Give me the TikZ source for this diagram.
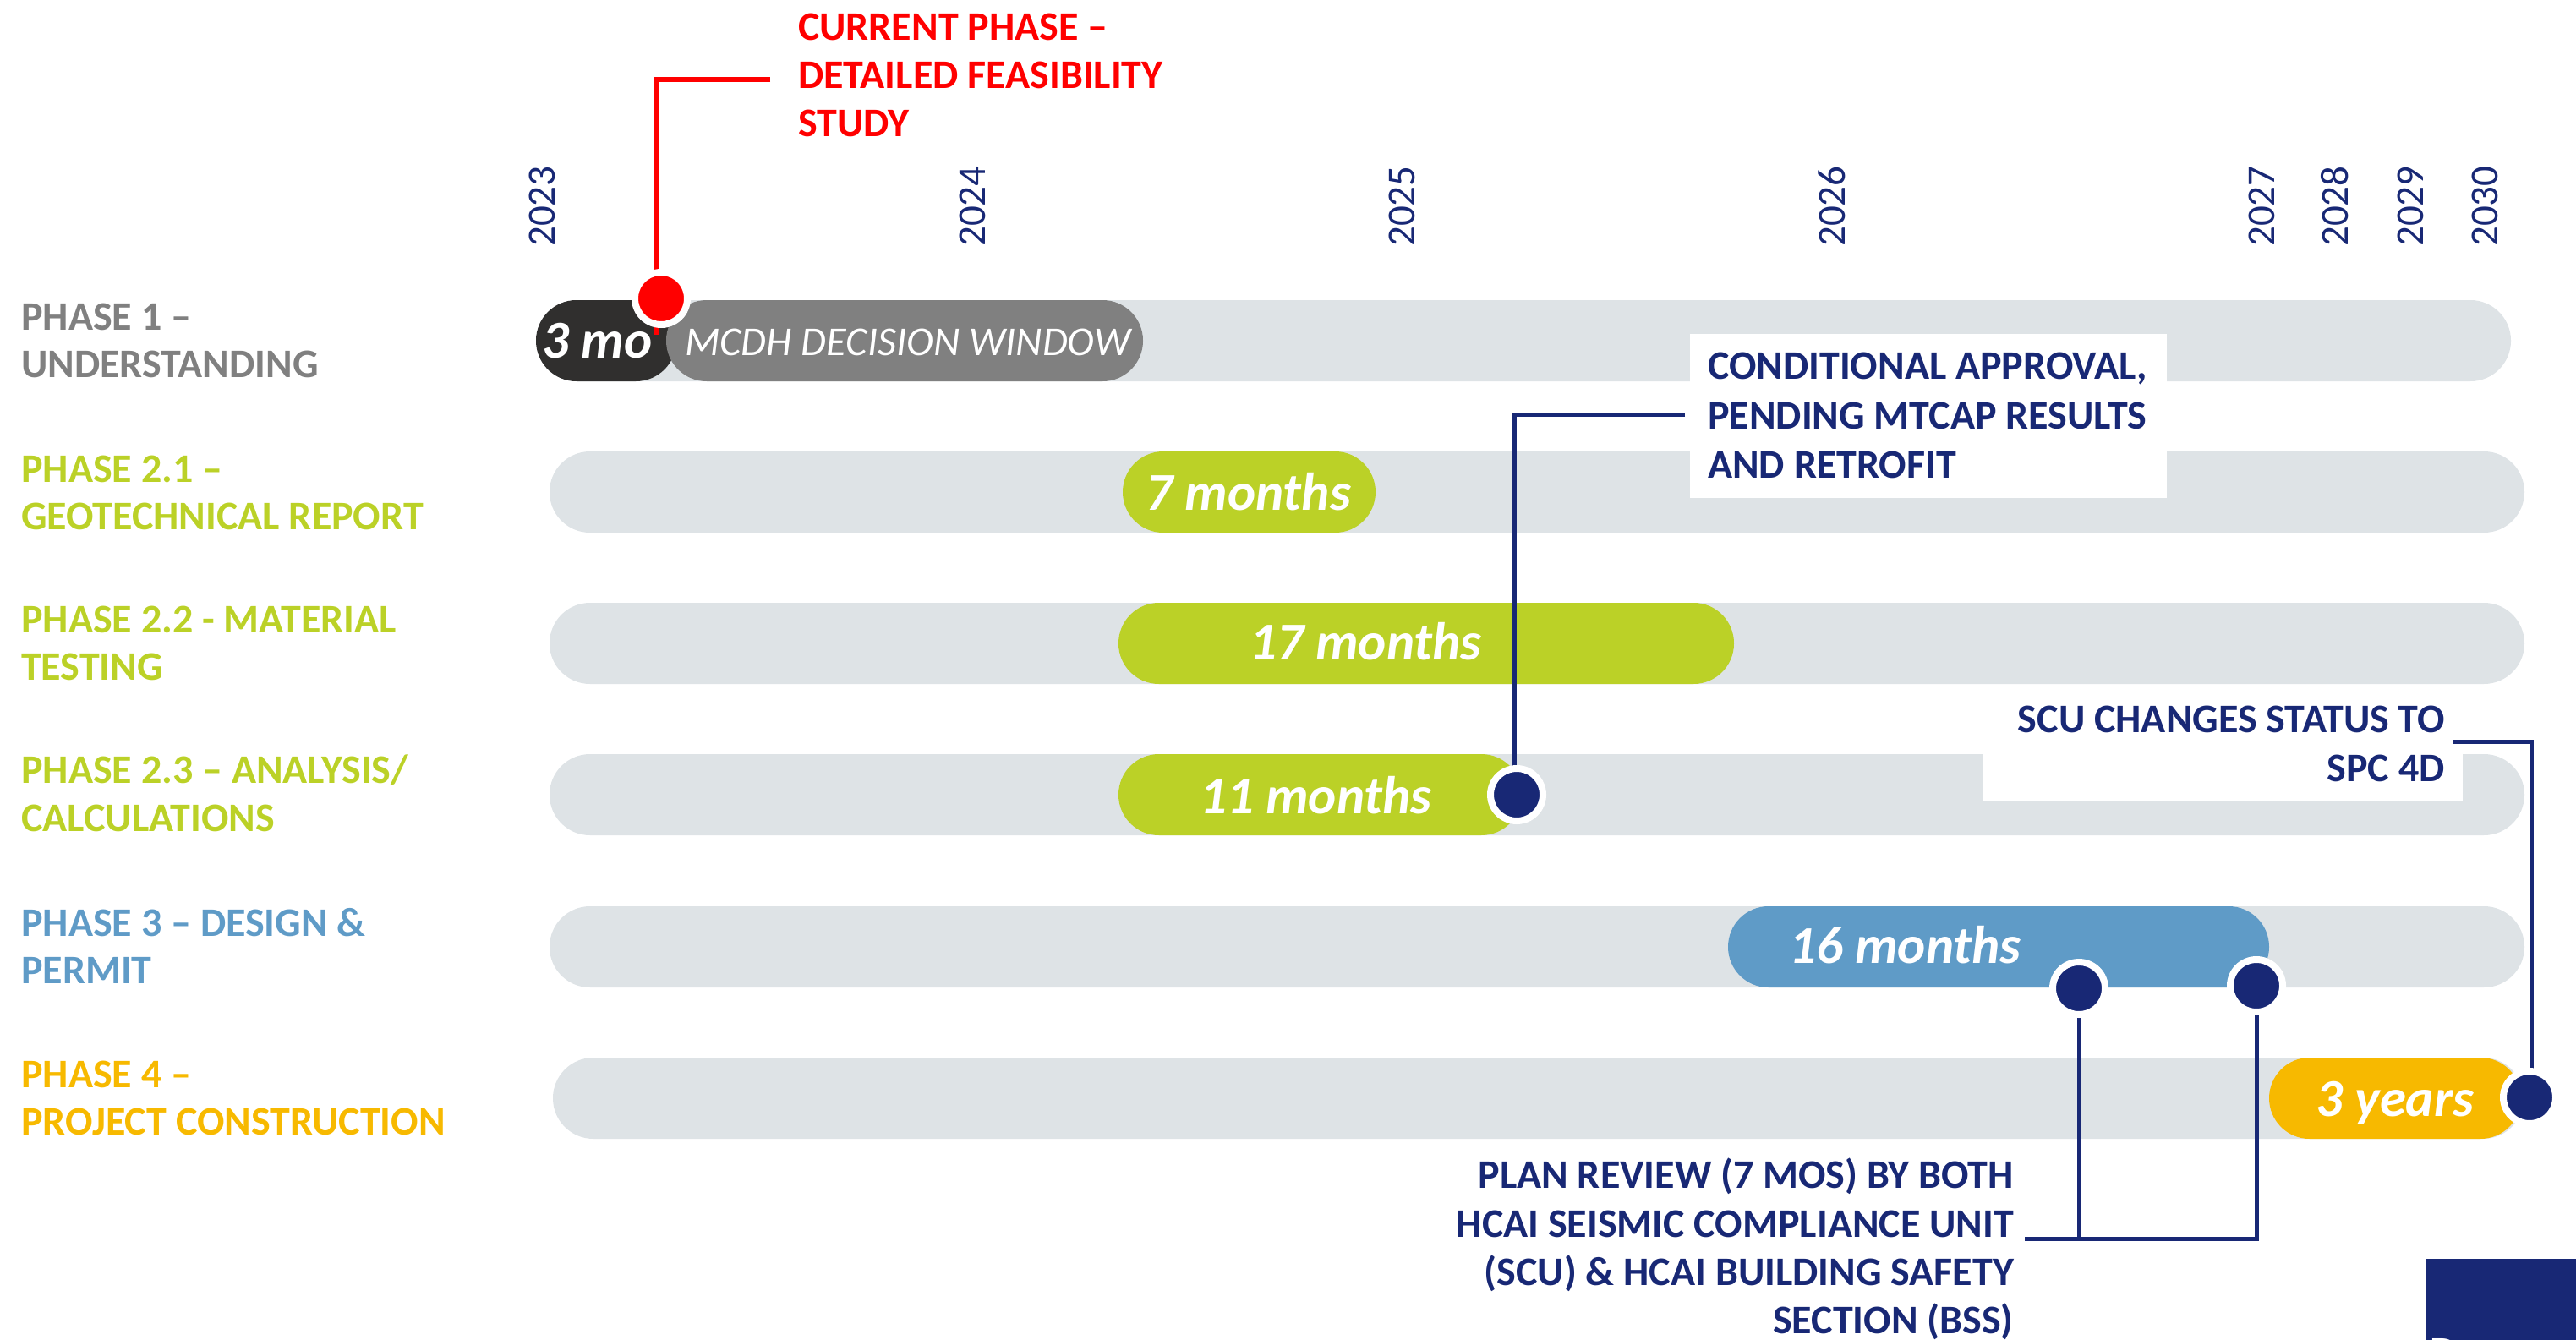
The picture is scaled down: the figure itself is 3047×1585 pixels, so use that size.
\documentclass[tikz,border=0pt]{standalone}
\usepackage{fontspec}
\setmainfont{Carlito}
\newfontfamily\logofont{Liberation Sans}
\definecolor{navy}{RGB}{24,40,117}
\definecolor{lime}{RGB}{187,209,39}
\definecolor{sky}{RGB}{95,155,199}
\definecolor{amber}{RGB}{247,185,0}
\definecolor{trackgray}{RGB}{222,227,230}
\definecolor{coal}{RGB}{48,47,46}
\definecolor{midgray}{RGB}{128,128,128}
\definecolor{hotred}{RGB}{255,0,0}
\pgfdeclarelayer{bg}
\pgfdeclarelayer{lines}
\pgfsetlayers{bg,lines,main}
\begin{document}
\begin{tikzpicture}[x=1pt,y=-1pt,
  lab/.style={inner sep=0pt, anchor=base west, font=\fontsize{48}{57}\selectfont\bfseries},
  labr/.style={lab, anchor=base east},
  yr/.style={inner sep=0pt, anchor=west, rotate=90, text=navy, font=\fontsize{47}{47}\selectfont},
  bartext/.style={inner sep=0pt, anchor=base west, text=white, font=\fontsize{63}{63}\selectfont\bfseries\itshape},
  dot/.style={circle, fill=navy, draw=white, line width=8pt, minimum size=62pt, inner sep=0pt},
  conn/.style={draw=navy, line width=5pt},
  redconn/.style={draw=hotred, line width=6pt},
  capsule/.style={rounded corners=47.9pt}
]
\useasboundingbox (0,0) rectangle (3047,1585);
\clip (0,0) rectangle (3047,1585);

\begin{pgfonlayer}{bg}
  % tracks
  \fill[trackgray, capsule] (634,355) rectangle (2970,451);
  \fill[trackgray, capsule] (650,534) rectangle (2986,630);
  \fill[trackgray, capsule] (650,713) rectangle (2986,809);
  \fill[trackgray, capsule] (650,892) rectangle (2986,988);
  \fill[trackgray, capsule] (650,1072) rectangle (2986,1168);
  \fill[trackgray, capsule] (654,1251) rectangle (2985,1347);
  % bars
  \fill[coal, capsule] (634,355) rectangle (800,451);
  \fill[midgray, capsule] (788,355) rectangle (1352,451);
  \fill[lime, capsule] (1328,534) rectangle (1627,630);
  \fill[lime, capsule] (1323,713) rectangle (2051,809);
  \fill[lime, capsule] (1323,892) rectangle (1800,988);
  \fill[sky, capsule] (2044,1072) rectangle (2684,1168);
  \fill[amber, capsule] (2684,1251) rectangle (2982,1347);
  % white label boxes
  \fill[white] (1999,395) rectangle (2563,589);
  \fill[white] (2345,820) rectangle (2913,948);
  % logo block
  \fill[navy] (2869,1489) rectangle (3047,1585);
\end{pgfonlayer}

% years
\node[yr] (y23) at (641,292) {2023};
\node[yr] (y24) at (1150,292) {2024};
\node[yr] (y25) at (1658,292) {2025};
\node[yr] (y26) at (2167,292) {2026};
\node[yr] (y27) at (2675,292) {2027};
\node[yr] (y28) at (2762,292) {2028};
\node[yr] (y29) at (2851,292) {2029};
\node[yr] (y30) at (2939,292) {2030};

% phase labels
\node[lab, text=midgray] (p1a) at (25,390) {PHASE 1 –};
\node[lab, text=midgray] (p1b) at (25,446) {UNDERSTANDING};
\node[lab, text=lime] (p21a) at (25,570) {PHASE 2.1 –};
\node[lab, text=lime] (p21b) at (25,626) {GEOTECHNICAL REPORT};
\node[lab, text=lime] (p22a) at (25,748) {PHASE 2.2 - MATERIAL};
\node[lab, text=lime] (p22b) at (25,804) {TESTING};
\node[lab, text=lime] (p23a) at (25,926) {PHASE 2.3 – ANALYSIS/};
\node[lab, text=lime] (p23b) at (25,983) {CALCULATIONS};
\node[lab, text=sky] (p3a) at (25,1107) {PHASE 3 – DESIGN \&};
\node[lab, text=sky] (p3b) at (25,1163) {PERMIT};
\node[lab, text=amber] (p4a) at (25,1286) {PHASE 4 –};
\node[lab, text=amber] (p4b) at (25,1342) {PROJECT CONSTRUCTION};

% bar texts
\node[bartext] (t3mo) at (641,423) {3 mo};
\node[inner sep=0pt, anchor=base west, text=white, font=\fontsize{48.5}{48}\selectfont\itshape] (tmcdh) at (810,420) {MCDH DECISION WINDOW};
\node[bartext] (t7) at (1355,603) {7 months};
\node[bartext] (t17) at (1478,780) {17 months};
\node[bartext] (t11) at (1419,962) {11 months};
\node[bartext] (t16) at (2116,1139) {16 months};
\node[bartext] (t3y) at (2739,1320) {3 years};

% callout texts
\node[lab, text=hotred] (r1) at (944,47) {CURRENT PHASE –};
\node[lab, text=hotred] (r2) at (944,104) {DETAILED FEASIBILITY};
\node[lab, text=hotred] (r3) at (944,161) {STUDY};
\node[lab, text=navy] (c1) at (2020,448) {CONDITIONAL APPROVAL,};
\node[lab, text=navy] (c2) at (2020,507) {PENDING MTCAP RESULTS};
\node[lab, text=navy] (c3) at (2020,565) {AND RETROFIT};
\node[labr, text=navy] (s1) at (2892,866) {SCU CHANGES STATUS TO};
\node[labr, text=navy] (s2) at (2892,924) {SPC 4D};
\node[labr, text=navy] (pr1) at (2382,1405) {PLAN REVIEW (7 MOS) BY BOTH};
\node[labr, text=navy] (pr2) at (2382,1463) {HCAI SEISMIC COMPLIANCE UNIT};
\node[labr, text=navy] (pr3) at (2382,1520) {(SCU) \& HCAI BUILDING SAFETY};
\node[labr, text=navy] (pr4) at (2382,1577) {SECTION (BSS)};
\node[inner sep=0pt, anchor=base west, text=white, font=\logofont\fontsize{48}{48}\selectfont] (logo) at (2873,1616) {Devenney};

% dots
\node[circle, fill=hotred, draw=white, line width=8pt, minimum size=62pt, inner sep=0pt] (reddot) at (782,353) {};
\node[dot] (d11) at (1794,940) {};
\node[dot] (d16a) at (2459,1169) {};
\node[dot] (d16b) at (2669,1166) {};
\node[dot] (d3y) at (2992,1298) {};

% connector anchors
\coordinate (rc) at (911,94);
\coordinate (rk) at (777,94);
\coordinate (cc) at (1993,490);
\coordinate (ck) at (1791,490);
\coordinate (sc) at (2901,877);
\coordinate (sk) at (2994,877);
\coordinate (pc) at (2395,1465);

\begin{pgfonlayer}{lines}
  \draw[redconn] (rc) -- (rk) -- ([yshift=-8pt]rk |- reddot.south);
  \draw[conn] (cc) -- (ck) -- (ck |- d11.center);
  \draw[conn] (sc) -- (sk) -- (sk |- d3y.center);
  \draw[conn] (pc) -- (d16b |- pc) -- (d16b.center);
  \draw[conn] (d16a.center) -- (d16a |- pc);
\end{pgfonlayer}
\end{tikzpicture}
\end{document}
